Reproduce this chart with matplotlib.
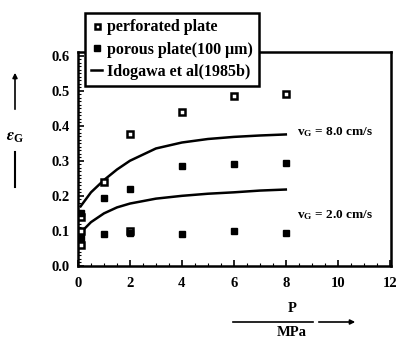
import matplotlib
matplotlib.use("Agg")
import matplotlib.pyplot as plt
from matplotlib.ticker import MultipleLocator

plt.rcParams['font.family'] = ['Liberation Serif', 'DejaVu Serif']
plt.rcParams['font.weight'] = 'bold'
plt.rcParams['mathtext.fontset'] = 'stix'

# data
perf_x = [0.1, 0.1, 0.1, 1, 2, 2, 4, 6, 8]
perf_y = [0.06, 0.14, 0.10, 0.24, 0.377, 0.10, 0.44, 0.485, 0.49]
por_x = [0.1, 0.1, 1, 1, 2, 2, 4, 4, 6, 6, 8, 8]
por_y = [0.08, 0.15, 0.195, 0.09, 0.22, 0.095, 0.285, 0.09, 0.29, 0.10, 0.295, 0.095]
curve_x = [0.1, 0.3, 0.5, 1, 1.5, 2, 3, 4, 5, 6, 7, 8]
curve_hi = [0.17, 0.19, 0.21, 0.245, 0.275, 0.30, 0.335, 0.352, 0.362, 0.368, 0.372, 0.375]
curve_lo = [0.095, 0.11, 0.125, 0.15, 0.167, 0.178, 0.192, 0.200, 0.206, 0.210, 0.215, 0.218]
xticks = [0, 2, 4, 6, 8, 10, 12]
yticks = [0.0, 0.1, 0.2, 0.3, 0.4, 0.5, 0.6]

fig = plt.figure(figsize=(3.96, 3.38), dpi=100)
ax = fig.add_axes([78/396, 1-266/338, (391-78)/396, (266-52)/338])

ax.plot(curve_x, curve_hi, color='black', lw=1.8, label='Idogawa et al(1985b)', zorder=2)
ax.plot(curve_x, curve_lo, color='black', lw=1.8, zorder=2)
ax.plot(perf_x, perf_y, linestyle='none', marker='s', ms=4.5, mfc='white', mec='black', mew=1.8,
        label='perforated plate', zorder=3)
ax.plot(por_x, por_y, linestyle='none', marker='s', ms=5, mfc='black', mec='black',
        label='porous plate(100 μm)', zorder=4)

ax.set_xlim(0, 12.05)
ax.set_ylim(0, 0.61)
ax.set_xticks(xticks)
ax.set_yticks(yticks)
ax.set_xticklabels([str(t) for t in xticks], fontsize=10.5, fontweight='bold')
ax.set_yticklabels([f"{t:.1f}" for t in yticks], fontsize=10.5, fontweight='bold')
ax.xaxis.set_minor_locator(MultipleLocator(0.5))
ax.yaxis.set_minor_locator(MultipleLocator(0.01))
ax.tick_params(direction='in', length=4, width=1.2)
ax.tick_params(axis='x', pad=8)
ax.tick_params(axis='y', pad=6)
ax.tick_params(which='minor', direction='in', length=2, width=0.8)
ax.tick_params(top=False, right=False)
for s in ax.spines.values():
    s.set_linewidth(1.8)

ax.text(8.45, 0.383, r'v$_\mathregular{G}$ = 8.0 cm/s', fontsize=9.5, fontweight='bold', va='center')
ax.text(8.45, 0.145, r'v$_\mathregular{G}$ = 2.0 cm/s', fontsize=9.5, fontweight='bold', va='center')

# legend
leg = fig.legend(handles=[ax.lines[2], ax.lines[3], ax.lines[0]],
                 loc='upper left', bbox_to_anchor=(80/396, 1-8/338), fontsize=11.5,
                 frameon=True, fancybox=False, edgecolor='black', framealpha=1,
                 handlelength=0.7, handletextpad=0.3, borderpad=0.4, labelspacing=0.4,
                 markerscale=0.8, borderaxespad=0.3)
leg.get_frame().set_linewidth(1.8)
leg.set_zorder(10)

# y axis label with arrows
fig.text(15/396, 1-137/338, r'$\varepsilon_\mathregular{G}$', fontsize=12, ha='center', va='center')
fig.add_artist(matplotlib.patches.FancyArrowPatch((15/396, 1-112/338), (15/396, 1-70/338),
               transform=fig.transFigure, arrowstyle='-|>', mutation_scale=7, lw=1.2, color='black'))
fig.add_artist(matplotlib.lines.Line2D([15/396, 15/396], [1-152/338, 1-187/338],
               transform=fig.transFigure, lw=1.5, color='black'))

# x axis label
fig.text(292/396, 1-308/338, 'P', fontsize=10.5, fontweight='bold', ha='center', va='center')
fig.text(292/396, 1-333/338, 'MPa', fontsize=10.5, fontweight='bold', ha='center', va='center')
fig.add_artist(matplotlib.lines.Line2D([233/396, 313/396], [1-322/338, 1-322/338],
               transform=fig.transFigure, lw=1.2, color='black'))
fig.add_artist(matplotlib.patches.FancyArrowPatch((316/396, 1-322/338), (358/396, 1-322/338),
               transform=fig.transFigure, arrowstyle='-|>', mutation_scale=7, lw=1.2, color='black'))

fig.savefig('out.png', dpi=100)
